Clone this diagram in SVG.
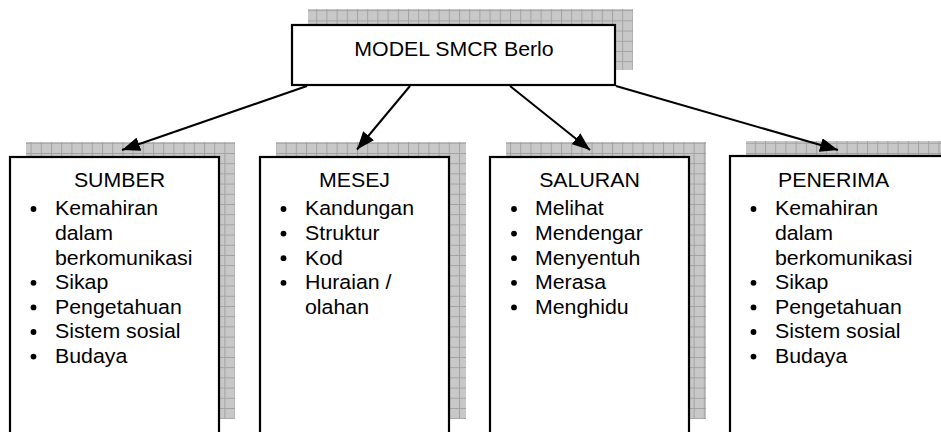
<svg xmlns="http://www.w3.org/2000/svg" width="941" height="432" viewBox="0 0 941 432">
<defs>
<pattern id="grid" x="0" y="0" width="10.2" height="10.2" patternUnits="userSpaceOnUse">
<rect width="10.2" height="10.2" fill="#c8c8c8"/>
<path d="M0 0.5H10.2M0.5 0V10.2" stroke="#a2a2a2" stroke-width="1" fill="none"/>
</pattern>
<marker id="ah" markerWidth="18" markerHeight="14" refX="18" refY="7" orient="auto" markerUnits="userSpaceOnUse">
<path d="M0 0L18 7L0 14Z" fill="#000"/>
</marker>
<style>
.sh{fill:url(#grid);}
.box{fill:#fff;stroke:#000;stroke-width:2.2;}
.t{font-family:"Liberation Sans",Arial,sans-serif;font-size:20.5px;fill:#000;}
.c{text-anchor:middle;}
.b{fill:#000;}
.con{stroke:#000;stroke-width:2;fill:none;marker-end:url(#ah);}
</style>
</defs>
<rect width="941" height="432" fill="#fff"/>

<g id="model">
<rect class="sh" x="308" y="9" width="325" height="61"/>
<rect class="box" x="292" y="25" width="323" height="60"/>
<text class="t c" transform="translate(454,56) scale(1.04,1)">MODEL SMCR Berlo</text>
</g>

<g id="sumber">
<rect class="sh" x="26" y="142" width="209" height="277"/>
<rect class="box" x="10" y="157" width="209" height="290"/>
<circle class="b" cx="33.5" cy="209" r="2.9"/>
<circle class="b" cx="33.5" cy="282.8" r="2.9"/>
<circle class="b" cx="33.5" cy="307.4" r="2.9"/>
<circle class="b" cx="33.5" cy="332" r="2.9"/>
<circle class="b" cx="33.5" cy="356.6" r="2.9"/>
<g class="t" transform="translate(55,0) scale(1.04,1)">
<text class="c" x="62" y="187">SUMBER</text>
<text x="0" y="215.5">Kemahiran</text>
<text x="0" y="240.1">dalam</text>
<text x="0" y="264.7">berkomunikasi</text>
<text x="0" y="289.3">Sikap</text>
<text x="0" y="313.9">Pengetahuan</text>
<text x="0" y="338.5">Sistem sosial</text>
<text x="0" y="363.1">Budaya</text>
</g>
</g>

<g id="mesej">
<rect class="sh" x="276" y="142" width="190" height="277"/>
<rect class="box" x="260" y="157" width="189" height="290"/>
<circle class="b" cx="283.5" cy="209" r="2.9"/>
<circle class="b" cx="283.5" cy="233.6" r="2.9"/>
<circle class="b" cx="283.5" cy="258.2" r="2.9"/>
<circle class="b" cx="283.5" cy="282.8" r="2.9"/>
<g class="t" transform="translate(305,0) scale(1.04,1)">
<text class="c" x="47.6" y="187">MESEJ</text>
<text x="0" y="215.5">Kandungan</text>
<text x="0" y="240.1">Struktur</text>
<text x="0" y="264.7">Kod</text>
<text x="0" y="289.3">Huraian /</text>
<text x="0" y="313.9">olahan</text>
</g>
</g>

<g id="saluran">
<rect class="sh" x="506" y="142" width="200" height="277"/>
<rect class="box" x="490" y="157" width="199" height="290"/>
<circle class="b" cx="514" cy="209" r="2.9"/>
<circle class="b" cx="514" cy="233.6" r="2.9"/>
<circle class="b" cx="514" cy="258.2" r="2.9"/>
<circle class="b" cx="514" cy="282.8" r="2.9"/>
<circle class="b" cx="514" cy="307.4" r="2.9"/>
<g class="t" transform="translate(535,0) scale(1.04,1)">
<text class="c" x="52.4" y="187">SALURAN</text>
<text x="0" y="215.5">Melihat</text>
<text x="0" y="240.1">Mendengar</text>
<text x="0" y="264.7">Menyentuh</text>
<text x="0" y="289.3">Merasa</text>
<text x="0" y="313.9">Menghidu</text>
</g>
</g>

<g id="penerima">
<rect class="sh" x="746" y="141" width="220" height="278"/>
<rect class="box" x="730" y="156" width="220" height="290"/>
<circle class="b" cx="753.5" cy="209" r="2.9"/>
<circle class="b" cx="753.5" cy="282.8" r="2.9"/>
<circle class="b" cx="753.5" cy="307.4" r="2.9"/>
<circle class="b" cx="753.5" cy="332" r="2.9"/>
<circle class="b" cx="753.5" cy="356.6" r="2.9"/>
<g class="t" transform="translate(775,0) scale(1.04,1)">
<text class="c" x="56.4" y="187">PENERIMA</text>
<text x="0" y="215.5">Kemahiran</text>
<text x="0" y="240.1">dalam</text>
<text x="0" y="264.7">berkomunikasi</text>
<text x="0" y="289.3">Sikap</text>
<text x="0" y="313.9">Pengetahuan</text>
<text x="0" y="338.5">Sistem sosial</text>
<text x="0" y="363.1">Budaya</text>
</g>
</g>

<g id="connectors">
<line class="con" x1="307" y1="86" x2="122" y2="150"/>
<line class="con" x1="410" y1="86" x2="357" y2="149.5"/>
<line class="con" x1="510" y1="86" x2="590" y2="150"/>
<line class="con" x1="616" y1="86" x2="838" y2="150"/>
</g>
</svg>
